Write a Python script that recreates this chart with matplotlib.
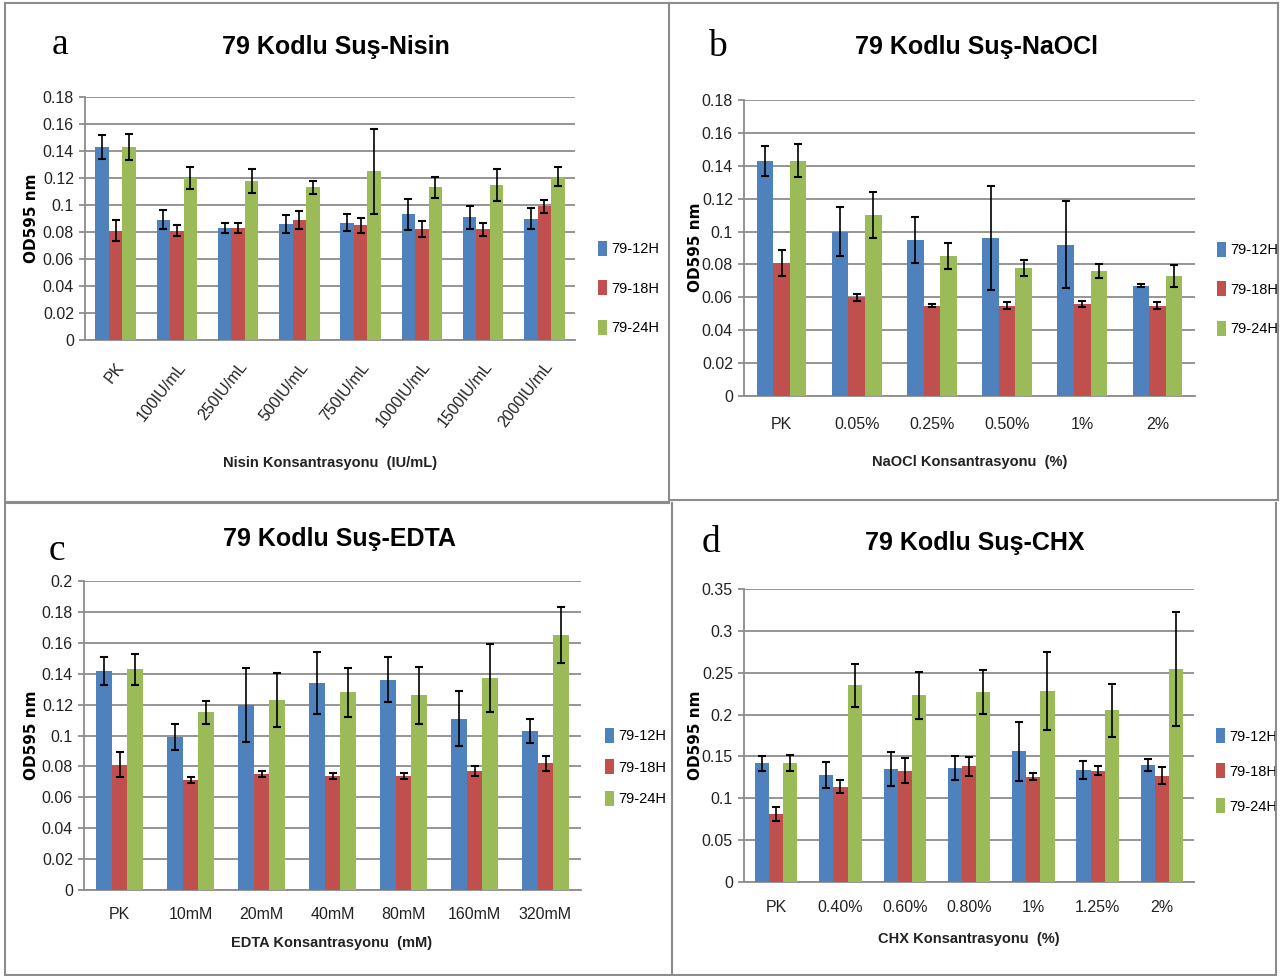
import numpy as np
import matplotlib
matplotlib.use('Agg')
import matplotlib.pyplot as plt
from matplotlib.lines import Line2D

# --- 設定 ---
W, H = 1283, 976
SERIES = ['79-12H', '79-18H', '79-24H']
COLORS = ['#4F81BD', '#C0504D', '#9BBB59']
GRID_COLOR = '#8C8C8C'
SANS = ['Liberation Sans', 'DejaVu Sans']

# --- a: Nisin ---
nisin_cats = ['PK', '100IU/mL', '250IU/mL', '500IU/mL', '750IU/mL',
              '1000IU/mL', '1500IU/mL', '2000IU/mL']
nisin_12h = [0.143, 0.089, 0.083, 0.086, 0.087, 0.093, 0.091, 0.090]
nisin_18h = [0.081, 0.081, 0.083, 0.089, 0.085, 0.082, 0.082, 0.099]
nisin_24h = [0.143, 0.120, 0.118, 0.113, 0.125, 0.113, 0.115, 0.121]
nisin_12h_err = [0.009, 0.007, 0.004, 0.0065, 0.0065, 0.0115, 0.0085, 0.0075]
nisin_18h_err = [0.008, 0.004, 0.004, 0.0065, 0.0055, 0.006, 0.005, 0.005]
nisin_24h_err = [0.0095, 0.008, 0.009, 0.0045, 0.0315, 0.008, 0.012, 0.007]

# --- b: NaOCl ---
naocl_cats = ['PK', '0.05%', '0.25%', '0.50%', '1%', '2%']
naocl_12h = [0.143, 0.100, 0.095, 0.096, 0.092, 0.067]
naocl_18h = [0.081, 0.060, 0.055, 0.055, 0.056, 0.055]
naocl_24h = [0.143, 0.110, 0.085, 0.078, 0.076, 0.073]
naocl_12h_err = [0.009, 0.015, 0.014, 0.0315, 0.0265, 0.001]
naocl_18h_err = [0.008, 0.002, 0.001, 0.002, 0.002, 0.002]
naocl_24h_err = [0.010, 0.014, 0.008, 0.005, 0.0045, 0.0065]

# --- c: EDTA ---
edta_cats = ['PK', '10mM', '20mM', '40mM', '80mM', '160mM', '320mM']
edta_12h = [0.142, 0.099, 0.120, 0.134, 0.136, 0.111, 0.103]
edta_18h = [0.081, 0.071, 0.075, 0.074, 0.074, 0.077, 0.082]
edta_24h = [0.143, 0.115, 0.123, 0.128, 0.126, 0.137, 0.165]
edta_12h_err = [0.009, 0.0085, 0.024, 0.020, 0.0145, 0.0175, 0.008]
edta_18h_err = [0.008, 0.002, 0.002, 0.002, 0.002, 0.003, 0.005]
edta_24h_err = [0.010, 0.0075, 0.0175, 0.016, 0.0185, 0.022, 0.018]

# --- d: CHX ---
chx_cats = ['PK', '0.40%', '0.60%', '0.80%', '1%', '1.25%', '2%']
chx_12h = [0.142, 0.128, 0.135, 0.136, 0.156, 0.134, 0.140]
chx_18h = [0.081, 0.114, 0.133, 0.138, 0.126, 0.133, 0.127]
chx_24h = [0.142, 0.235, 0.223, 0.227, 0.228, 0.205, 0.254]
chx_12h_err = [0.009, 0.0155, 0.020, 0.0145, 0.035, 0.0105, 0.0075]
chx_18h_err = [0.008, 0.0075, 0.015, 0.011, 0.004, 0.005, 0.010]
chx_24h_err = [0.010, 0.0255, 0.028, 0.0265, 0.0465, 0.0315, 0.068]


def fx(x):
    return x / W


def fy(y):
    return 1 - y / H


def draw_panel(fig, box, cats, vals, errs, ymax, ystep, title, xlabel,
               letter, pos, rot=0):
    l, t, r, b = box
    ax = fig.add_axes([fx(l), fy(b), (r - l) / W, (b - t) / H])
    x = np.arange(len(cats))
    bw = 0.22
    bars = []
    for i, (v, e) in enumerate(zip(vals, errs)):
        bc = ax.bar(x + (i - 1) * bw, v, bw, color=COLORS[i], label=SERIES[i],
                    yerr=e, capsize=3,
                    error_kw=dict(ecolor='black', elinewidth=1.2, capthick=1.5),
                    zorder=3)
        bars.append(bc)
    ax.set_xlim(-0.5, len(cats) - 0.5)
    ax.set_ylim(0, ymax)
    ticks = np.round(np.arange(0, ymax + ystep / 2, ystep), 3)
    ax.set_yticks(ticks)
    ax.set_yticklabels([f'{v:g}' for v in ticks], family=SANS, fontsize=11.5,
                       color='#222222')
    ax.yaxis.grid(True, color=GRID_COLOR, linewidth=1.3, zorder=0)
    ax.set_axisbelow(True)
    for s in ['top', 'right']:
        ax.spines[s].set_visible(False)
    for s in ['left', 'bottom']:
        ax.spines[s].set_color(GRID_COLOR)
        ax.spines[s].set_linewidth(1.3)
    ax.tick_params(axis='y', length=4, color=GRID_COLOR, width=1.3, pad=4)
    ax.tick_params(axis='x', length=0, pad=pos.get('xpad', 12))
    ax.set_xticks(x)
    if rot:
        ax.set_xticklabels(cats, rotation=rot, ha='right', rotation_mode='anchor',
                           family=SANS, fontsize=11.5, color='#222222')
    else:
        ax.set_xticklabels(cats, family=SANS, fontsize=11.5, color='#222222')

    # 見出し・軸ラベル
    fig.text(fx(pos['title'][0]), fy(pos['title'][1]), title, family=SANS,
             fontsize=18, fontweight='bold', ha='center', va='center')
    fig.text(fx(pos['letter'][0]), fy(pos['letter'][1]), letter,
             family='Liberation Serif', fontsize=27, ha='center', va='center')
    fig.text(fx(pos['xlabel'][0]), fy(pos['xlabel'][1]), xlabel, family=SANS,
             fontsize=10.5, fontweight='bold', ha='center', va='center',
             color='#222222')
    fig.text(fx(pos['ylabel'][0]), fy(pos['ylabel'][1]), 'OD595 nm',
             family='DejaVu Sans', fontsize=11, fontweight='bold',
             rotation=90, ha='center', va='center')

    # 凡例
    ax.legend(handles=bars, loc='center left',
              bbox_to_anchor=(fx(pos['legend'][0]), fy(pos['legend'][1])),
              bbox_transform=fig.transFigure, frameon=False,
              prop=dict(family=SANS, size=10.5), handlelength=0.6,
              handleheight=1.2, handletextpad=0.3, borderpad=0,
              borderaxespad=0, labelspacing=pos['legend'][2])
    return ax


def main():
    fig = plt.figure(figsize=(W / 100, H / 100), dpi=100)

    draw_panel(fig, (85, 97, 575, 340), nisin_cats,
               [nisin_12h, nisin_18h, nisin_24h],
               [nisin_12h_err, nisin_18h_err, nisin_24h_err],
               0.18, 0.02, '79 Kodlu Suş-Nisin',
               'Nisin Konsantrasyonu  (IU/mL)', 'a',
               dict(title=(336, 47), letter=(60, 45), xlabel=(330, 463),
                    ylabel=(32, 218), legend=(598, 288, 1.65), xpad=14),
               rot=52)

    draw_panel(fig, (744, 100, 1195, 396), naocl_cats,
               [naocl_12h, naocl_18h, naocl_24h],
               [naocl_12h_err, naocl_18h_err, naocl_24h_err],
               0.18, 0.02, '79 Kodlu Suş-NaOCl',
               'NaOCl Konsantrasyonu  (%)', 'b',
               dict(title=(976, 47), letter=(717, 47), xlabel=(970, 462),
                    ylabel=(695, 247), legend=(1217, 289, 1.65), xpad=15))

    draw_panel(fig, (84, 581, 581, 890), edta_cats,
               [edta_12h, edta_18h, edta_24h],
               [edta_12h_err, edta_18h_err, edta_24h_err],
               0.2, 0.02, '79 Kodlu Suş-EDTA',
               'EDTA Konsantrasyonu  (mM)', 'c',
               dict(title=(339, 539), letter=(57, 551), xlabel=(332, 943),
                    ylabel=(32, 735), legend=(605, 767, 1.1), xpad=12))

    draw_panel(fig, (744, 589, 1194, 882), chx_cats,
               [chx_12h, chx_18h, chx_24h],
               [chx_12h_err, chx_18h_err, chx_24h_err],
               0.35, 0.05, '79 Kodlu Suş-CHX',
               'CHX Konsantrasyonu  (%)', 'd',
               dict(title=(975, 543), letter=(711, 543), xlabel=(969, 939),
                    ylabel=(695, 735), legend=(1216, 771, 1.35), xpad=13))

    # パネル枠
    frame = [((5, 3), (669, 3)), ((5, 3), (5, 975)), ((5, 502), (669, 502)),
             ((669, 3), (669, 502)), ((669, 3), (1278, 3)),
             ((1278, 3), (1278, 500)), ((669, 500), (1278, 500)),
             ((5, 975), (1276, 975)), ((672, 503), (672, 975)),
             ((1276, 503), (1276, 975)), ((5, 503), (669, 503))]
    for (x0, y0), (x1, y1) in frame:
        fig.add_artist(Line2D([fx(x0), fx(x1)], [fy(y0), fy(y1)],
                              color='#8C8C8C', linewidth=1.5))

    fig.savefig('out.png', dpi=100, facecolor='white')
    plt.close(fig)


if __name__ == '__main__':
    main()
